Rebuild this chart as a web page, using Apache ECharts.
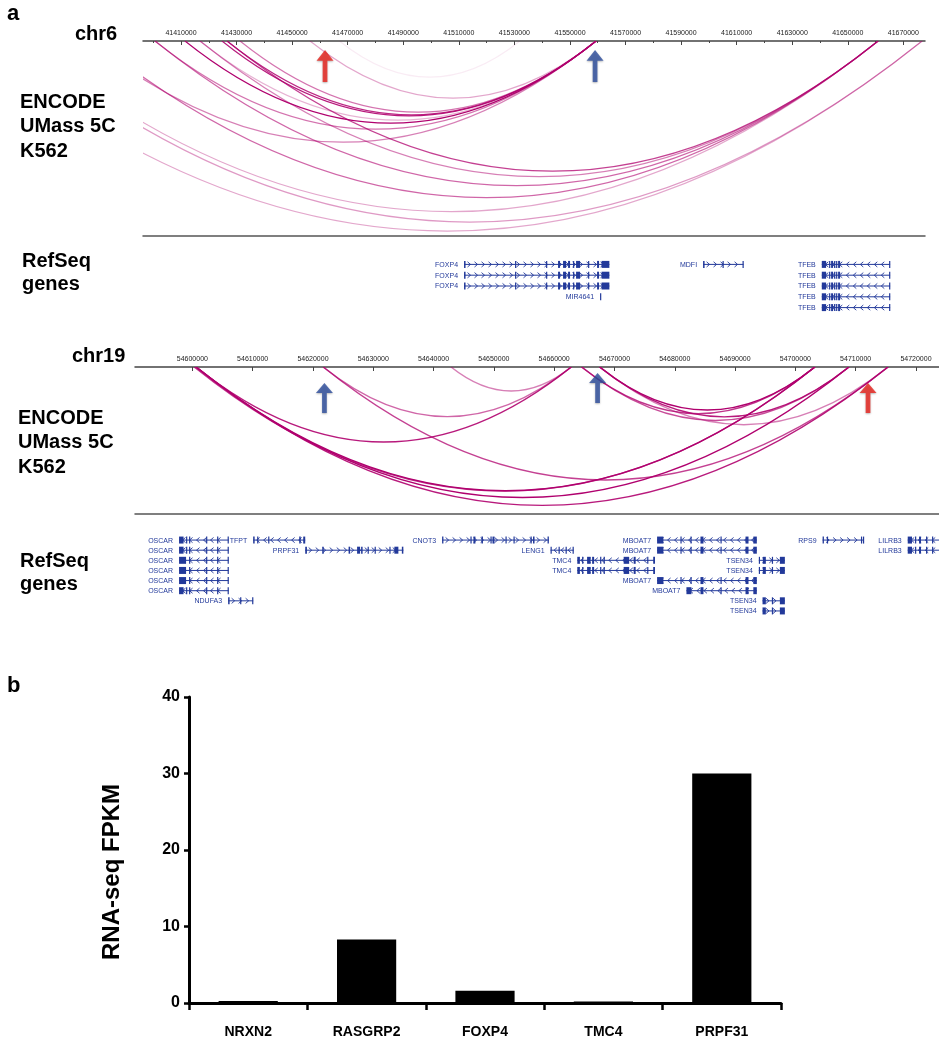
<!DOCTYPE html>
<html><head><meta charset="utf-8">
<script src="https://cdn.jsdelivr.net/npm/echarts@6/dist/echarts.min.js"></script>
<style>html,body{margin:0;padding:0;background:#fff}#c{width:939px;height:1050px}</style>
</head><body><div id="c"></div>
<script>
// ---------------- DATA ----------------
// chr6 view
const chr6Range = [41396320, 41677800];
const chr6TickLabels = [41410000,41430000,41450000,41470000,41490000,41510000,41530000,41550000,41570000,41590000,41610000,41630000,41650000,41670000];
const chr6MinorTicks = [41400000,41420000,41440000,41460000,41480000,41500000,41520000,41540000,41560000,41580000,41600000,41620000,41640000,41660000];
// 5C interactions: [anchor1, anchor2, score 0..1]
const chr6Arcs = [
  [41456440, 41559400, 0.35],
  [41431240, 41559400, 0.55],
  [41426560, 41559400, 0.85],
  [41424760, 41559400, 0.9],
  [41411440, 41559400, 1.0],
  [41400640, 41559400, 0.55],
  [41416840, 41559400, 0.3],
  [41377240, 41559400, 0.5],
  [41426560, 41660920, 0.75],
  [41416840, 41660920, 0.5],
  [41400640, 41660920, 0.6],
  [41379040, 41660920, 0.6],
  [41353840, 41660920, 0.35],
  [41350960, 41676760, 0.4],
  [41334760, 41676760, 0.35],
  [41467000, 41532000, 0.08]
];
const chr6ArrowPos = [41461840, 41559040];
const chr6ArrowKind = ['red', 'blue'];

// chr6 RefSeq genes
const FOXP4_EX = [[41511880,41512420],[41530240,41530600],[41541400,41541760],[41545720,41546440],[41547520,41548600],[41549320,41550040],[41551120,41551480],[41552200,41553640],[41556520,41556880],[41559760,41560480],[41561380,41564190]];
const MIR4641_EX = [[41560840,41560920]];
const MDFI_EX = [[41597920,41598460],[41604920,41605280],[41612120,41612480]];
const TFEB_EX = [[41640650,41642200],[41643280,41643640],[41644000,41644720],[41645080,41645440],[41645800,41646160],[41646520,41647240],[41664880,41665240]];
const chr6GeneNames  = ['FOXP4','FOXP4','FOXP4','MIR4641','MDFI','TFEB','TFEB','TFEB','TFEB','TFEB'];
const chr6GeneStart  = [41511880,41511880,41511880,41560840,41597920,41640650,41640650,41640650,41640650,41640650];
const chr6GeneEnd    = [41564190,41564190,41564190,41560920,41612480,41665240,41665240,41665240,41665240,41665240];
const chr6GeneRow    = [0,1,2,3,0,0,1,2,3,4];
const chr6GeneStrand = [1,1,1,0,1,-1,-1,-1,-1,-1];
const chr6GeneExons  = [FOXP4_EX,FOXP4_EX,FOXP4_EX,MIR4641_EX,MDFI_EX,TFEB_EX,TFEB_EX,TFEB_EX,TFEB_EX,TFEB_EX];

// chr19 view
const chr19Range = [54590485, 54723820];
const chr19TickLabels = [54600000,54610000,54620000,54630000,54640000,54650000,54660000,54670000,54680000,54690000,54700000,54710000,54720000];
const chr19Arcs = [
  [54600614, 54662840, 0.9],
  [54600614, 54703240, 1.0],
  [54600300, 54703240, 0.8],
  [54600614, 54708890, 1.0],
  [54600614, 54715370, 0.9],
  [54621700, 54662840, 0.6],
  [54621700, 54715370, 0.75],
  [54642900, 54662840, 0.5],
  [54667540, 54703240, 1.0],
  [54664550, 54703240, 0.8],
  [54667540, 54708890, 0.9],
  [54664550, 54708890, 0.7],
  [54667540, 54715370, 0.5]
];
const chr19ArrowPos = [54621900, 54667200, 54712050];
const chr19ArrowKind = ['blue', 'blue', 'red'];

const OSCAR_A = [[54597791,54598538],[54598954,54599120],[54599452,54599618],[54602275,54602441],[54604102,54604268],[54605845,54606011]];
const OSCAR_B = [[54597791,54598954],[54599452,54599618],[54602275,54602441],[54604102,54604268],[54605845,54606011]];
const TFPT_EX = [[54610080,54610329],[54610745,54610911],[54612571,54612737],[54617719,54617968],[54618383,54618715]];
const PRPF31_EX = [[54618715,54618998],[54621538,54621787],[54625906,54626155],[54627318,54627816],[54627982,54628231],[54629062,54629228],[54630224,54630390],[54632669,54632835],[54633499,54634163],[54634740,54634989]];
const NDUFA3_EX = [[54605928,54606177],[54607921,54608087],[54609914,54610080]];
const CNOT3_EX = [[54641415,54641631],[54646114,54646280],[54646612,54646944],[54647941,54648190],[54649436,54649602],[54649768,54650100],[54651925,54652091],[54653255,54653421],[54656078,54656244],[54656493,54656742],[54658902,54659118]];
const LENG1_EX = [[54659400,54659566],[54660729,54660895],[54661891,54662057],[54663053,54663219]];
const TMC4_EX = [[54663834,54664266],[54664631,54664797],[54665460,54666043],[54666293,54666625],[54667622,54667788],[54668202,54668368],[54671523,54672437],[54673182,54673514],[54675425,54675591],[54676422,54676721]];
const MBOAT7_EX = [[54677068,54678114],[54680940,54681106],[54682600,54682766],[54684260,54684758],[54687581,54687747],[54691732,54692230],[54693027,54693608]];
const MBOAT7_EX2 = [[54681935,54682766],[54684260,54684758],[54687581,54687747],[54691732,54692230],[54693027,54693608]];
const TSEN34_EX = [[54693940,54694106],[54694607,54695105],[54696101,54696267],[54697430,54698258]];
const TSEN34_EX2 = [[54694553,54695105],[54696101,54696267],[54697430,54698258]];
const RPS9_EX = [[54704517,54704733],[54705231,54705397],[54710878,54711044],[54711210,54711376]];
const LILRB3_EX = [[54718632,54719346],[54719844,54720010],[54720508,54720840],[54721670,54721836],[54722666,54722832],[54724000,54724200]];

const chr19GeneNames  = ['OSCAR','OSCAR','OSCAR','OSCAR','OSCAR','OSCAR','TFPT','PRPF31','NDUFA3','CNOT3','LENG1','TMC4','TMC4','MBOAT7','MBOAT7','MBOAT7','MBOAT7','TSEN34','TSEN34','TSEN34','TSEN34','RPS9','LILRB3','LILRB3'];
const chr19GeneStart  = [54597791,54597791,54597791,54597791,54597791,54597791,54610080,54618715,54605928,54641415,54659400,54663834,54663834,54677068,54677068,54677068,54681935,54693940,54693940,54694553,54694553,54704517,54718632,54718632];
const chr19GeneEnd    = [54606011,54606011,54606011,54606011,54606011,54606011,54618715,54634989,54610080,54659118,54663219,54676721,54676721,54693608,54693608,54693608,54693608,54698258,54698258,54698258,54698258,54711376,54727000,54727000];
const chr19GeneRow    = [0,1,2,3,4,5,0,1,6,0,1,2,3,0,1,4,5,2,3,6,7,0,0,1];
const chr19GeneStrand = [-1,-1,-1,-1,-1,-1,-1,1,1,1,-1,-1,-1,-1,-1,-1,-1,1,1,1,1,1,-1,-1];
const chr19GeneExons  = [OSCAR_A,OSCAR_A,OSCAR_B,OSCAR_B,OSCAR_B,OSCAR_A,TFPT_EX,PRPF31_EX,NDUFA3_EX,CNOT3_EX,LENG1_EX,TMC4_EX,TMC4_EX,MBOAT7_EX,MBOAT7_EX,MBOAT7_EX,MBOAT7_EX2,TSEN34_EX,TSEN34_EX,TSEN34_EX2,TSEN34_EX2,RPS9_EX,LILRB3_EX,LILRB3_EX];

// panel b
const rnaGenes = ['NRXN2','RASGRP2','FOXP4','TMC4','PRPF31'];
const rnaFpkm  = [0.25, 8.3, 1.6, 0.2, 30];
const fpkmTicks = [0, 10, 20, 30, 40];

// ---------------- STYLE ----------------
const ARC_RGB = '176,0,110';
const GENE_COLOR = '#22399a';
const ARROW_COLOR = {red:'#e8221c', blue:'#2d4d9e'};
const ARROW_PATH = 'path://M9,0 L18,11 L11.5,11 L11.5,33 L6.5,33 L6.5,11 L0,11 Z';
const ARC_RATIO = 0.2;
const BAR_FONT = 'Arial, "Liberation Sans", sans-serif';

function arcRender(lw) {
  return function (params, api) {
    const p1 = api.coord([api.value(0), 0]);
    const p2 = api.coord([api.value(1), 0]);
    const y0 = params.coordSys.y;
    const span = p2[0] - p1[0];
    const depth = span * ARC_RATIO;
    const a = api.value(2);
    return {
      type: 'bezierCurve',
      shape: {x1: p1[0], y1: y0, x2: p2[0], y2: y0, cpx1: (p1[0] + p2[0]) / 2, cpy1: y0 + 2 * depth},
      style: {stroke: 'rgba(' + ARC_RGB + ',' + a + ')', lineWidth: lw, fill: 'none'}
    };
  };
}

function geneRender(names, strands, exons) {
  return function (params, api) {
    const i = params.dataIndex;
    const row = api.value(2);
    const s = api.coord([api.value(0), row]);
    const e = api.coord([api.value(1), row]);
    const y = s[1];
    const ch = [];
    ch.push({type: 'line', shape: {x1: s[0], y1: y, x2: e[0], y2: y}, style: {stroke: GENE_COLOR, lineWidth: 1}});
    const dir = strands[i];
    if (dir !== 0) {
      for (let x = s[0] + 5; x < e[0] - 3; x += 7) {
        ch.push({type: 'polyline', shape: {points: [[x - 1.5 * dir, y - 2.6], [x + 1.5 * dir, y], [x - 1.5 * dir, y + 2.6]]},
          style: {stroke: GENE_COLOR, lineWidth: 0.9, fill: 'none'}});
      }
    }
    exons[i].forEach(function (ex) {
      const a = api.coord([ex[0], row])[0];
      const b = api.coord([ex[1], row])[0];
      ch.push({type: 'rect', shape: {x: a, y: y - 3.5, width: Math.max(1.2, b - a), height: 7}, style: {fill: GENE_COLOR}});
    });
    ch.push({type: 'text', style: {text: names[i], x: s[0] - 6, y: y + 0.5, align: 'right', verticalAlign: 'middle',
      font: '7px Arial', fill: GENE_COLOR}});
    return {type: 'group', children: ch};
  };
}

function arrowData(pos, kind, offsets) {
  return pos.map(function (p, k) {
    return {value: [p, 0], symbolOffset: [0, offsets[k]], itemStyle: {color: ARROW_COLOR[kind[k]]}};
  });
}

const numFmt = function (v) { return String(v); };
const tickLabelStyle = {fontFamily: 'Arial', fontSize: 7, color: '#222', margin: 4, formatter: numFmt};

const chart = echarts.init(document.getElementById('c'), null, {renderer: 'canvas'});
const option = {
  backgroundColor: '#fff',
  animation: false,
  graphic: [
    {type: 'text', left: 7, top: 3, style: {text: 'a', font: 'bold 22px Arial', fill: '#000'}},
    {type: 'text', left: 75, top: 24, style: {text: 'chr6', font: 'bold 20px Arial', fill: '#000'}},
    {type: 'text', left: 20, top: 90, style: {text: 'ENCODE\nUMass 5C\nK562', font: 'bold 20px Arial', lineHeight: 24.5, fill: '#000'}},
    {type: 'text', left: 22, top: 250, style: {text: 'RefSeq\ngenes', font: 'bold 20px Arial', lineHeight: 23, fill: '#000'}},
    {type: 'text', left: 72, top: 346, style: {text: 'chr19', font: 'bold 20px Arial', fill: '#000'}},
    {type: 'text', left: 18, top: 406, style: {text: 'ENCODE\nUMass 5C\nK562', font: 'bold 20px Arial', lineHeight: 24.5, fill: '#000'}},
    {type: 'text', left: 20, top: 550, style: {text: 'RefSeq\ngenes', font: 'bold 20px Arial', lineHeight: 23, fill: '#000'}},
    {type: 'text', left: 7, top: 675, style: {text: 'b', font: 'bold 22px Arial', fill: '#000'}},
    {type: 'text', x: 112, y: 872, rotation: Math.PI / 2,
      style: {text: 'RNA-seq FPKM', font: 'bold 24px Arial', fill: '#000', align: 'center', verticalAlign: 'middle'}}
  ],
  grid: [
    {left: 143, top: 41, width: 782, height: 195},
    {left: 143, top: 259, width: 782, height: 54},
    {left: 135, top: 367, width: 804, height: 147},
    {left: 135, top: 535, width: 804, height: 81},
    {left: 189, top: 697, width: 592, height: 306}
  ],
  xAxis: [
    {gridIndex: 0, type: 'value', position: 'top', min: chr6Range[0], max: chr6Range[1],
      axisLine: {lineStyle: {color: '#444', width: 1.5}}, splitLine: {show: false},
      axisTick: {customValues: chr6TickLabels, inside: true, length: 4, lineStyle: {color: '#444'}},
      axisLabel: Object.assign({customValues: chr6TickLabels}, tickLabelStyle)},
    {gridIndex: 0, type: 'value', position: 'top', min: chr6Range[0], max: chr6Range[1],
      axisLine: {show: false}, splitLine: {show: false}, axisLabel: {show: false},
      axisTick: {customValues: chr6MinorTicks, inside: true, length: 2, lineStyle: {color: '#444'}}},
    {gridIndex: 0, type: 'value', position: 'bottom', min: chr6Range[0], max: chr6Range[1],
      axisLine: {lineStyle: {color: '#555', width: 1.5}}, axisTick: {show: false}, axisLabel: {show: false}, splitLine: {show: false}},
    {gridIndex: 1, type: 'value', min: chr6Range[0], max: chr6Range[1], show: false},
    {gridIndex: 2, type: 'value', position: 'top', min: chr19Range[0], max: chr19Range[1],
      axisLine: {lineStyle: {color: '#444', width: 1.5}}, splitLine: {show: false},
      axisTick: {customValues: chr19TickLabels, inside: true, length: 4, lineStyle: {color: '#444'}},
      axisLabel: Object.assign({customValues: chr19TickLabels}, tickLabelStyle)},
    {gridIndex: 2, type: 'value', position: 'bottom', min: chr19Range[0], max: chr19Range[1],
      axisLine: {lineStyle: {color: '#555', width: 1.5}}, axisTick: {show: false}, axisLabel: {show: false}, splitLine: {show: false}},
    {gridIndex: 3, type: 'value', min: chr19Range[0], max: chr19Range[1], show: false},
    {gridIndex: 4, type: 'category', data: rnaGenes,
      axisLine: {lineStyle: {color: '#000', width: 3}},
      axisTick: {show: true, length: 7, lineStyle: {color: '#000', width: 2.5}},
      axisLabel: {margin: 22, color: '#000', fontFamily: BAR_FONT, fontWeight: 'bold', fontSize: 14}}
  ],
  yAxis: [
    {gridIndex: 0, type: 'value', min: 0, max: 1, inverse: true, show: false},
    {gridIndex: 1, type: 'value', min: -0.5, max: 4.5, inverse: true, show: false},
    {gridIndex: 2, type: 'value', min: 0, max: 1, inverse: true, show: false},
    {gridIndex: 3, type: 'value', min: -0.5, max: 7.5, inverse: true, show: false},
    {gridIndex: 4, type: 'value', min: fpkmTicks[0], max: fpkmTicks[fpkmTicks.length - 1], interval: 10,
      axisLine: {show: true, lineStyle: {color: '#000', width: 3}},
      axisTick: {show: true, length: 5, lineStyle: {color: '#000', width: 2.5}},
      splitLine: {show: false},
      axisLabel: {margin: 9, color: '#000', fontFamily: BAR_FONT, fontWeight: 'bold', fontSize: 16}}
  ],
  series: [
    {type: 'custom', xAxisIndex: 0, yAxisIndex: 0, clip: true, silent: true, data: chr6Arcs, renderItem: arcRender(1.2)},
    {type: 'scatter', xAxisIndex: 0, yAxisIndex: 0, silent: true, z: 5, symbol: ARROW_PATH, symbolSize: [17, 32],
      itemStyle: {shadowBlur: 2, shadowColor: 'rgba(0,0,0,0.35)', shadowOffsetY: 1},
      data: arrowData(chr6ArrowPos, chr6ArrowKind, [25, 25])},
    {type: 'custom', xAxisIndex: 3, yAxisIndex: 1, silent: true,
      data: chr6GeneStart.map(function (s, i) { return [s, chr6GeneEnd[i], chr6GeneRow[i]]; }),
      renderItem: geneRender(chr6GeneNames, chr6GeneStrand, chr6GeneExons)},
    {type: 'custom', xAxisIndex: 4, yAxisIndex: 2, clip: true, silent: true, data: chr19Arcs, renderItem: arcRender(1.4)},
    {type: 'scatter', xAxisIndex: 4, yAxisIndex: 2, silent: true, z: 5, symbol: ARROW_PATH, symbolSize: [17, 30],
      itemStyle: {shadowBlur: 2, shadowColor: 'rgba(0,0,0,0.35)', shadowOffsetY: 1},
      data: arrowData(chr19ArrowPos, chr19ArrowKind, [31, 21, 31])},
    {type: 'custom', xAxisIndex: 6, yAxisIndex: 3, silent: true,
      data: chr19GeneStart.map(function (s, i) { return [s, chr19GeneEnd[i], chr19GeneRow[i]]; }),
      renderItem: geneRender(chr19GeneNames, chr19GeneStrand, chr19GeneExons)},
    {type: 'bar', xAxisIndex: 7, yAxisIndex: 4, data: rnaFpkm, barWidth: '50%', itemStyle: {color: '#000'}, silent: true}
  ]
};
chart.setOption(option);
</script></body></html>
